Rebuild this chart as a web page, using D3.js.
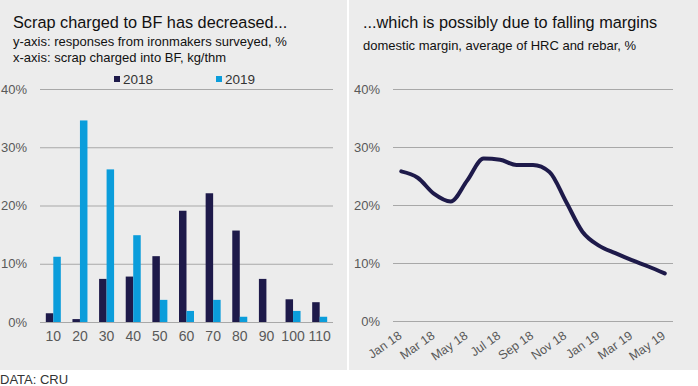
<!DOCTYPE html>
<html>
<head>
<meta charset="utf-8">
<script src="https://cdn.jsdelivr.net/npm/d3@7"></script>
<style>
  body { margin: 0; background: #fff; }
  svg { display: block; font-family: "Liberation Sans", Arial, sans-serif; }
</style>
</head>
<body>
<svg id="chart" width="698" height="386"></svg>
<script>
// left panel: survey responses by scrap charged into BF
const scrapBins = ["10", "20", "30", "40", "50", "60", "70", "80", "90", "100", "110"];
const resp2018 = [1.5, 0.5, 7.4, 7.8, 11.3, 19.1, 22.1, 15.7, 7.4, 3.9, 3.4];
const resp2019 = [11.2, 34.6, 26.2, 14.9, 3.8, 1.9, 3.8, 0.9, 0, 1.9, 0.9];
const seriesNames = ["2018", "2019"];

// right panel: domestic margin
const months = ["Jan 18", "Feb 18", "Mar 18", "Apr 18", "May 18", "Jun 18", "Jul 18", "Aug 18",
  "Sep 18", "Oct 18", "Nov 18", "Dec 18", "Jan 19", "Feb 19", "Mar 19", "Apr 19", "May 19"];
const margin = [25.8, 24.7, 21.9, 20.6, 24.2, 28.0, 27.8, 26.9, 26.9, 25.7, 20.6, 15.4, 13.0, 11.7, 10.5, 9.4, 8.2];

const yTicks = [0, 10, 20, 30, 40];
const navy = "#1e1a4a", blue = "#0b9ddb";
const bg = "#ececec", grid = "#a8a8a8", label = "#595959";

const svg = d3.select("#chart");

// panel backgrounds
svg.append("rect").attr("x", 0).attr("y", 0).attr("width", 347).attr("height", 370).attr("fill", bg);
svg.append("rect").attr("x", 349).attr("y", 0).attr("width", 349).attr("height", 370).attr("fill", bg);

// ---- left: grouped bars ----
const x0 = d3.scaleBand().domain(scrapBins).range([40, 333]);
const x1 = d3.scaleBand().domain(seriesNames).range([0, 15]);
const yL = d3.scaleLinear().domain([0, 40]).range([322, 89]);

const left = svg.append("g");

left.append("g")
    .attr("transform", "translate(40,0)")
    .call(d3.axisLeft(yL).tickValues(yTicks).tickFormat(d => d + "%").tickSize(-293))
    .call(g => g.select(".domain").remove())
    .call(g => g.selectAll(".tick line").attr("stroke", grid).attr("stroke-width", 1.2))
    .call(g => g.selectAll(".tick text").attr("x", -13).attr("fill", label).style("font-size", "13px"));

const groups = left.append("g").selectAll("g")
    .data(scrapBins.map((b, i) => ({ bin: b, vals: [resp2018[i], resp2019[i]] })))
    .join("g")
    .attr("transform", d => `translate(${x0(d.bin) + (x0.bandwidth() - 15) / 2},0)`);

groups.selectAll("rect")
    .data(d => d.vals.map((v, j) => ({ key: seriesNames[j], v })))
    .join("rect")
    .attr("x", d => x1(d.key))
    .attr("width", x1.bandwidth())
    .attr("y", d => yL(d.v))
    .attr("height", d => yL(0) - yL(d.v))
    .attr("fill", d => d.key === "2018" ? navy : blue);

left.append("g")
    .attr("transform", "translate(0,322)")
    .call(d3.axisBottom(x0).tickSize(0).tickPadding(9))
    .call(g => g.select(".domain").remove())
    .call(g => g.selectAll(".tick text").attr("fill", label).style("font-size", "14px"));

// legend
const legend = left.append("g").selectAll("g")
    .data(seriesNames)
    .join("g")
    .attr("transform", (d, i) => `translate(${[114, 216][i]},79)`);
legend.append("rect").attr("x", 0).attr("y", -3).attr("width", 6).attr("height", 6)
    .attr("fill", d => d === "2018" ? navy : blue);
legend.append("text").attr("x", 9).attr("y", 5).text(d => d)
    .attr("fill", "#333").style("font-size", "13.5px");

left.append("text").attr("x", 13).attr("y", 28).text("Scrap charged to BF has decreased...")
    .attr("fill", "#111").style("font-size", "16.3px");
left.append("text").attr("x", 13).attr("y", 46).text("y-axis: responses from ironmakers surveyed, %")
    .attr("fill", "#111").style("font-size", "13px");
left.append("text").attr("x", 13).attr("y", 62).text("x-axis: scrap charged into BF, kg/thm")
    .attr("fill", "#111").style("font-size", "13px");

// ---- right: line ----
const xR = d3.scaleBand().domain(months).range([393, 673]);
const yR = d3.scaleLinear().domain([0, 40]).range([321, 89]);

const right = svg.append("g");

right.append("g")
    .attr("transform", "translate(393,0)")
    .call(d3.axisLeft(yR).tickValues(yTicks).tickFormat(d => d + "%").tickSize(-280))
    .call(g => g.select(".domain").remove())
    .call(g => g.selectAll(".tick line").attr("stroke", grid).attr("stroke-width", 1.2))
    .call(g => g.selectAll(".tick text").attr("x", -13).attr("fill", label).style("font-size", "13px"));

right.append("path")
    .datum(margin)
    .attr("fill", "none")
    .attr("stroke", navy)
    .attr("stroke-width", 4)
    .attr("stroke-linecap", "round")
    .attr("d", d3.line()
        .x((d, i) => xR(months[i]) + xR.bandwidth() / 2)
        .y(d => yR(d))
        .curve(d3.curveMonotoneX));

right.append("g")
    .attr("transform", "translate(0,321)")
    .call(d3.axisBottom(xR).tickValues(months.filter((m, i) => i % 2 === 0)).tickSize(0))
    .call(g => g.select(".domain").remove())
    .call(g => g.selectAll(".tick text")
        .attr("fill", label).style("font-size", "12.5px")
        .attr("text-anchor", "end")
        .attr("dy", "0.35em")
        .attr("transform", "translate(-1,13) rotate(-35)")
        .attr("y", 0).attr("x", 0));

right.append("text").attr("x", 363).attr("y", 28).text("...which is possibly due to falling margins")
    .attr("fill", "#111").style("font-size", "16.3px");
right.append("text").attr("x", 363).attr("y", 50).text("domestic margin, average of HRC and rebar, %")
    .attr("fill", "#111").style("font-size", "13px");

svg.append("text").attr("x", 0).attr("y", 384).text("DATA: CRU")
    .attr("fill", "#333").style("font-size", "13px");
</script>
</body>
</html>
